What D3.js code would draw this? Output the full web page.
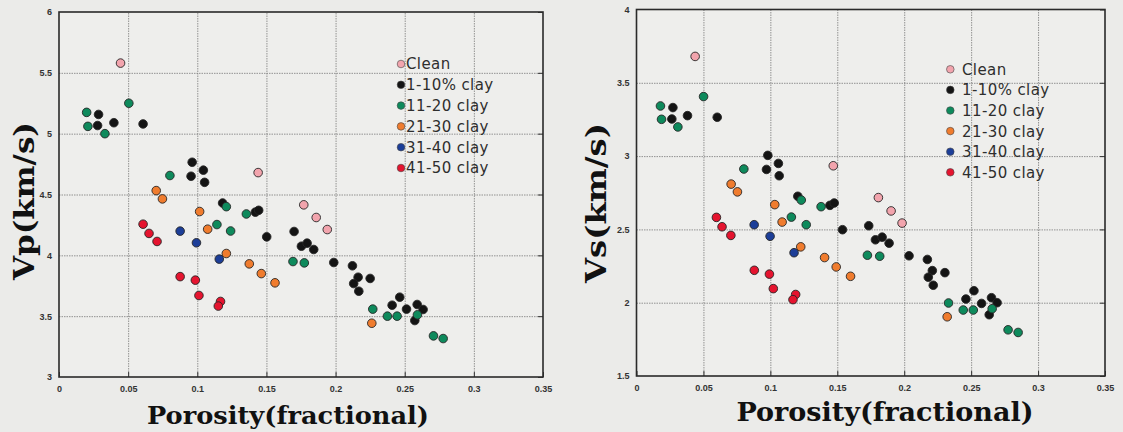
<!DOCTYPE html>
<html>
<head>
<meta charset="utf-8">
<script src="https://cdn.jsdelivr.net/npm/d3@7"></script>
<style>
  body { margin: 0; background: #ebebe9; }
  svg { display: block; }
</style>
</head>
<body>
<svg id="chart" width="1123" height="432"></svg>
<script>
// tick values
const porosityTicks = [0, 0.05, 0.1, 0.15, 0.2, 0.25, 0.3, 0.35];
const vpTicks = [3, 3.5, 4, 4.5, 5, 5.5, 6];
const vsTicks = [1.5, 2, 2.5, 3, 3.5, 4];

// legend groups
const groupNames = ['Clean', '1-10% clay', '11-20 clay', '21-30 clay', '31-40 clay', '41-50 clay'];
const groupColors = ['#f2a4ad', '#141414', '#0e8a5c', '#f07c2e', '#1c3e98', '#e5142f'];

// Vp panel: [porosity, Vp]
const vpClean = [[0.0445, 5.58], [0.144, 4.68], [0.177, 4.415], [0.186, 4.311], [0.194, 4.212]];
const vpClay10 = [
  [0.0286, 5.158], [0.0279, 5.067], [0.0397, 5.09], [0.0608, 5.08], [0.0963, 4.765],
  [0.0955, 4.65], [0.1044, 4.70], [0.1053, 4.60], [0.1183, 4.43], [0.142, 4.355],
  [0.1444, 4.37], [0.1502, 4.152], [0.17, 4.196], [0.1753, 4.075], [0.1794, 4.10],
  [0.1842, 4.048], [0.1987, 3.941], [0.2122, 3.914], [0.2163, 3.82], [0.2131, 3.768],
  [0.2168, 3.705], [0.225, 3.81], [0.2464, 3.656], [0.2409, 3.59], [0.2513, 3.558],
  [0.259, 3.596], [0.2633, 3.555], [0.2573, 3.464]
];
const vpClay20 = [
  [0.020, 5.175], [0.0209, 5.06], [0.0332, 5.0], [0.0505, 5.25], [0.0802, 4.656],
  [0.121, 4.40], [0.1355, 4.34], [0.1142, 4.253], [0.1241, 4.20], [0.1692, 3.949],
  [0.1774, 3.938], [0.2269, 3.558], [0.2375, 3.50], [0.2445, 3.50], [0.2592, 3.511],
  [0.2708, 3.338], [0.2778, 3.316]
];
const vpClay30 = [
  [0.0703, 4.532], [0.0748, 4.464], [0.1017, 4.36], [0.1075, 4.215], [0.121, 4.015],
  [0.1376, 3.93], [0.1463, 3.85], [0.1562, 3.774], [0.2262, 3.442]
];
const vpClay40 = [[0.0876, 4.199], [0.0994, 4.103], [0.1159, 3.969]];
const vpClay50 = [
  [0.0608, 4.256], [0.0651, 4.18], [0.0709, 4.114], [0.0876, 3.825], [0.0986, 3.796],
  [0.1012, 3.67], [0.1168, 3.621], [0.1152, 3.583]
];

// Vs panel: [porosity, Vs]
const vsClean = [[0.0438, 3.68], [0.147, 2.934], [0.1807, 2.717], [0.1902, 2.626], [0.1984, 2.543]];
const vsClay10 = [
  [0.0272, 3.331], [0.0264, 3.253], [0.0381, 3.276], [0.0603, 3.265], [0.0981, 3.005],
  [0.0971, 2.909], [0.106, 2.95], [0.1066, 2.866], [0.1205, 2.726], [0.1445, 2.664],
  [0.1477, 2.68], [0.1539, 2.498], [0.1735, 2.525], [0.1785, 2.429], [0.1835, 2.447],
  [0.1887, 2.406], [0.2036, 2.32], [0.2173, 2.295], [0.221, 2.219], [0.218, 2.174],
  [0.2217, 2.119], [0.2304, 2.205], [0.2521, 2.082], [0.2461, 2.025], [0.2578, 1.995],
  [0.2652, 2.034], [0.2694, 2.0], [0.2635, 1.918]
];
const vsClay20 = [
  [0.0179, 3.342], [0.0187, 3.251], [0.0309, 3.199], [0.0501, 3.406], [0.0802, 2.912],
  [0.1231, 2.70], [0.1379, 2.655], [0.1157, 2.584], [0.1268, 2.532], [0.1725, 2.324],
  [0.1817, 2.317], [0.2331, 1.998], [0.2441, 1.95], [0.2516, 1.95], [0.2657, 1.959],
  [0.2776, 1.815], [0.2851, 1.797]
];
const vsClay30 = [
  [0.0707, 2.809], [0.0754, 2.756], [0.1033, 2.669], [0.1088, 2.55], [0.1227, 2.381],
  [0.1405, 2.308], [0.1492, 2.244], [0.1599, 2.18], [0.2321, 1.904]
];
const vsClay40 = [[0.0879, 2.532], [0.0998, 2.453], [0.1177, 2.341]];
const vsClay50 = [
  [0.0597, 2.582], [0.0639, 2.518], [0.0705, 2.459], [0.088, 2.221], [0.0993, 2.195],
  [0.1022, 2.096], [0.1189, 2.056], [0.1169, 2.021]
];

const panels = [
  {
    left: 59, right: 543, top: 12, bottom: 377,
    yDomain: [3, 6], yTicks: vpTicks, yTitle: 'Vp(km/s)',
    groups: [vpClean, vpClay10, vpClay20, vpClay30, vpClay40, vpClay50],
    yTitlePos: { x: 34, y: 201, len: 158, size: 28 },
    xTitlePos: { x: 288, y: 424, len: 282, size: 25 },
    legend: { x: 401, y: 64, step: 20.8, textX: 406 }
  },
  {
    left: 636.5, right: 1105, top: 9.5, bottom: 376,
    yDomain: [1.5, 4], yTicks: vsTicks, yTitle: 'Vs(km/s)',
    groups: [vsClean, vsClay10, vsClay20, vsClay30, vsClay40, vsClay50],
    yTitlePos: { x: 606, y: 203, len: 160, size: 28 },
    xTitlePos: { x: 885, y: 421, len: 297, size: 26 },
    legend: { x: 950.3, y: 69.3, step: 20.6, textX: 962 }
  }
];

const svg = d3.select('#chart');
const tickFont = '"Liberation Sans", Arial, sans-serif';
const titleFont = '"DejaVu Serif", serif';
const legendFont = '"DejaVu Sans", sans-serif';

// scanned-paper background
svg.append('rect')
  .attr('width', 1123).attr('height', 432)
  .attr('fill', '#ebebe9');

panels.forEach(p => drawPanel(p));

function drawPanel(p) {
  const x = d3.scaleLinear().domain([0, 0.35]).range([p.left, p.right]);
  const y = d3.scaleLinear().domain(p.yDomain).range([p.bottom, p.top]);
  const w = p.right - p.left;
  const h = p.bottom - p.top;
  const g = svg.append('g');

  g.append('rect')
    .attr('x', p.left).attr('y', p.top)
    .attr('width', w).attr('height', h)
    .attr('fill', '#eeeeec');

  // dotted grid lines
  const xGrid = g.append('g')
    .attr('transform', `translate(0,${p.bottom})`)
    .call(d3.axisBottom(x).tickValues(porosityTicks.slice(1, -1)).tickSize(-h).tickFormat(''));
  const yGrid = g.append('g')
    .attr('transform', `translate(${p.left},0)`)
    .call(d3.axisLeft(y).tickValues(p.yTicks.slice(1, -1)).tickSize(-w).tickFormat(''));
  [xGrid, yGrid].forEach(a => {
    a.select('.domain').remove();
    a.selectAll('line')
      .attr('stroke', '#7a7a7a')
      .attr('stroke-width', 0.8)
      .attr('stroke-dasharray', '1.5,1');
  });

  // short inner ticks on bottom and right sides
  g.append('g')
    .attr('transform', `translate(0,${p.bottom})`)
    .call(d3.axisBottom(x).tickValues(porosityTicks).tickSize(-5).tickFormat(''))
    .call(a => a.select('.domain').remove())
    .selectAll('line').attr('stroke', '#333').attr('stroke-width', 1);
  g.append('g')
    .attr('transform', `translate(${p.right},0)`)
    .call(d3.axisRight(y).tickValues(p.yTicks).tickSize(-5).tickFormat(''))
    .call(a => a.select('.domain').remove())
    .selectAll('line').attr('stroke', '#333').attr('stroke-width', 1);

  // tick labels
  const xLabels = g.append('g')
    .attr('transform', `translate(0,${p.bottom})`)
    .call(d3.axisBottom(x).tickValues(porosityTicks).tickSize(0).tickPadding(9).tickFormat(d => String(d)));
  const yLabels = g.append('g')
    .attr('transform', `translate(${p.left},0)`)
    .call(d3.axisLeft(y).tickValues(p.yTicks).tickSize(0).tickPadding(7).tickFormat(d => String(d)));
  [xLabels, yLabels].forEach(a => {
    a.select('.domain').remove();
    a.selectAll('text')
      .attr('font-family', tickFont)
      .attr('font-size', 9)
      .attr('font-weight', 'bold')
      .attr('fill', '#333');
  });

  // frame
  g.append('rect')
    .attr('x', p.left).attr('y', p.top)
    .attr('width', w).attr('height', h)
    .attr('fill', 'none')
    .attr('stroke', '#2a2a2a')
    .attr('stroke-width', 1.6);

  // points
  p.groups.forEach((pts, i) => {
    g.append('g')
      .selectAll('circle')
      .data(pts)
      .join('circle')
      .attr('cx', d => x(d[0]))
      .attr('cy', d => y(d[1]))
      .attr('r', 4.3)
      .attr('fill', groupColors[i])
      .attr('stroke', '#262626')
      .attr('stroke-width', 0.9);
  });

  // legend
  const leg = g.append('g');
  groupNames.forEach((name, i) => {
    const ly = p.legend.y + i * p.legend.step;
    leg.append('circle')
      .attr('cx', p.legend.x).attr('cy', ly).attr('r', 3.8)
      .attr('fill', groupColors[i])
      .attr('stroke', '#444').attr('stroke-width', 0.6);
    leg.append('text')
      .attr('x', p.legend.textX).attr('y', ly)
      .attr('dy', '0.36em')
      .attr('font-family', legendFont)
      .attr('font-size', 15)
      .attr('letter-spacing', 0.4)
      .attr('fill', '#2e2e2e')
      .text(name);
  });

  // axis titles
  g.append('text')
    .attr('x', p.xTitlePos.x).attr('y', p.xTitlePos.y)
    .attr('text-anchor', 'middle')
    .attr('font-family', titleFont)
    .attr('font-weight', 'bold')
    .attr('font-size', p.xTitlePos.size)
    .attr('textLength', p.xTitlePos.len)
    .attr('lengthAdjust', 'spacingAndGlyphs')
    .attr('fill', '#111')
    .text('Porosity(fractional)');

  g.append('text')
    .attr('transform', `translate(${p.yTitlePos.x},${p.yTitlePos.y}) rotate(-90)`)
    .attr('text-anchor', 'middle')
    .attr('font-family', titleFont)
    .attr('font-weight', 'bold')
    .attr('font-size', p.yTitlePos.size)
    .attr('textLength', p.yTitlePos.len)
    .attr('lengthAdjust', 'spacingAndGlyphs')
    .attr('fill', '#111')
    .text(p.yTitle);
}
</script>
</body>
</html>
